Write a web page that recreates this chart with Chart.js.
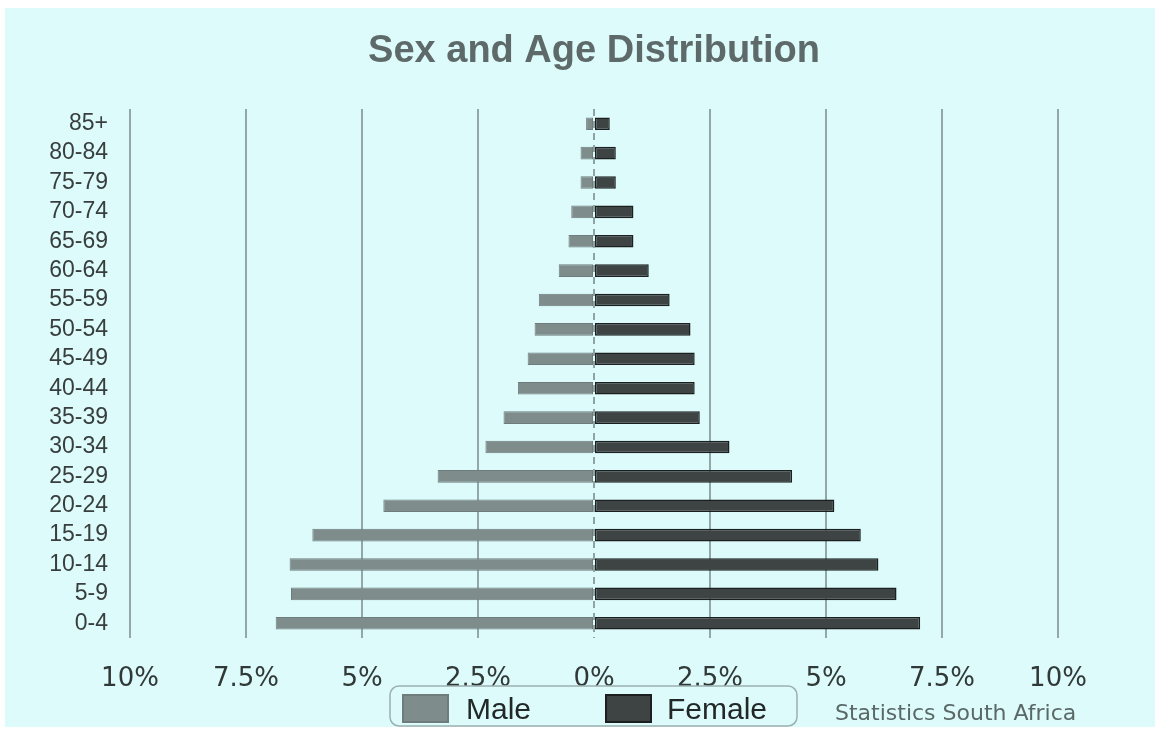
<!DOCTYPE html>
<html>
<head>
<meta charset="utf-8">
<title>Sex and Age Distribution</title>
<script src="https://cdn.jsdelivr.net/npm/chart.js@4.4.1/dist/chart.umd.min.js"></script>
<style>
  html, body { margin: 0; padding: 0; background: #fff; }
  canvas { display: block; }
</style>
</head>
<body>
<canvas id="chart" width="1159" height="729"></canvas>
<script>
const ageGroups = ['85+', '80-84', '75-79', '70-74', '65-69', '60-64', '55-59', '50-54', '45-49',
  '40-44', '35-39', '30-34', '25-29', '20-24', '15-19', '10-14', '5-9', '0-4'];
const malePct = [0.17, 0.29, 0.29, 0.49, 0.55, 0.76, 1.19, 1.28, 1.43,
  1.64, 1.95, 2.34, 3.37, 4.54, 6.07, 6.56, 6.53, 6.86];
const femalePct = [0.34, 0.47, 0.47, 0.85, 0.85, 1.18, 1.63, 2.08, 2.17,
  2.17, 2.28, 2.92, 4.27, 5.18, 5.75, 6.13, 6.52, 7.03];
const xTickLabels = ['10%', '7.5%', '5%', '2.5%', '0%', '2.5%', '5%', '7.5%', '10%'];
const chartTitle = 'Sex and Age Distribution';
const sourceNote = 'Statistics South Africa';

// light cyan panel behind everything
const backdrop = {
  id: 'backdrop',
  beforeDraw(chart) {
    const c = chart.ctx;
    c.save();
    c.fillStyle = '#ddfbfb';
    c.fillRect(5, 8, chart.width - 9, chart.height - 10);
    c.restore();
  }
};

// title is centred over the plot area, not the canvas
const titleText = {
  id: 'titleText',
  afterDraw(chart) {
    const c = chart.ctx;
    const { left, right } = chart.chartArea;
    c.save();
    c.font = 'bold 38px "Liberation Sans", Arial, sans-serif';
    c.fillStyle = '#5e6a6a';
    c.textAlign = 'center';
    c.textBaseline = 'middle';
    c.fillText(chartTitle, (left + right) / 2, 52);
    c.restore();
  }
};

// dashed line at 0%
const zeroLine = {
  id: 'zeroLine',
  beforeDatasetsDraw(chart) {
    const c = chart.ctx;
    const x = Math.round(chart.scales.x.getPixelForValue(0));
    const { top, bottom } = chart.chartArea;
    c.save();
    c.strokeStyle = '#8ea3a3';
    c.lineWidth = 2;
    c.setLineDash([7, 5]);
    c.beginPath();
    c.moveTo(x, top);
    c.lineTo(x, bottom);
    c.stroke();
    c.restore();
  }
};

// boxed legend + source note at the bottom
const legendBox = {
  id: 'legendBox',
  afterDraw(chart) {
    const c = chart.ctx;
    const ds = chart.data.datasets;
    c.save();
    c.beginPath();
    c.roundRect(390, 686, 407, 40, 9);
    c.strokeStyle = '#9cb0b0';
    c.lineWidth = 1.5;
    c.stroke();

    const spots = [{ x: 403, tx: 466 }, { x: 606, tx: 667 }];
    c.font = '30px "Liberation Sans", Arial, sans-serif';
    c.textBaseline = 'middle';
    ds.forEach((d, i) => {
      c.fillStyle = d.backgroundColor;
      c.fillRect(spots[i].x, 695, 45, 27);
      c.strokeStyle = d.borderColor;
      c.lineWidth = 2;
      c.strokeRect(spots[i].x, 695, 45, 27);
      c.fillStyle = '#222828';
      c.fillText(d.label, spots[i].tx, 711);
    });

    c.font = '22px "DejaVu Sans", sans-serif';
    c.fillStyle = '#5a6868';
    c.fillText(sourceNote, 835, 714);
    c.restore();
  }
};

new Chart(document.getElementById('chart'), {
  type: 'bar',
  data: {
    labels: ageGroups,
    datasets: [
      { label: 'Male', data: malePct.map(v => -v), backgroundColor: '#7e8c8c', borderColor: '#6e7c7c',
        borderWidth: 1, borderSkipped: false, barPercentage: 0.43, categoryPercentage: 1 },
      { label: 'Female', data: femalePct, backgroundColor: '#3e4444', borderColor: '#1b1f1f',
        borderWidth: 1.5, borderSkipped: false, barPercentage: 0.43, categoryPercentage: 1 }
    ]
  },
  options: {
    indexAxis: 'y',
    responsive: false,
    animation: false,
    devicePixelRatio: 1,
    layout: { padding: { left: 0, right: 101, top: 109, bottom: 0 } },
    plugins: {
      legend: { display: false },
      tooltip: { enabled: false },
      title: { display: false }
    },
    scales: {
      x: {
        min: -10, max: 10, stacked: true,
        ticks: {
          stepSize: 2.5, autoSkip: false, maxRotation: 0, padding: 26,
          callback: (v, i) => xTickLabels[i],
          color: '#313838',
          font: { family: '"DejaVu Sans", sans-serif', size: 26 }
        },
        grid: {
          color: ctx => (ctx.tick && ctx.tick.value === 0) ? 'rgba(0,0,0,0)' : '#93a7a7',
          lineWidth: 2, drawTicks: false
        },
        border: { display: false },
        afterFit: s => { s.height = 91; }
      },
      y: {
        stacked: true,
        ticks: {
          autoSkip: false, padding: 22, color: '#383e3e',
          font: { family: '"Liberation Sans", Arial, sans-serif', size: 23 }
        },
        grid: { display: false, drawTicks: false },
        border: { display: false },
        afterFit: s => { s.width = 130; }
      }
    }
  },
  plugins: [backdrop, zeroLine, legendBox, titleText]
});
</script>
</body>
</html>
